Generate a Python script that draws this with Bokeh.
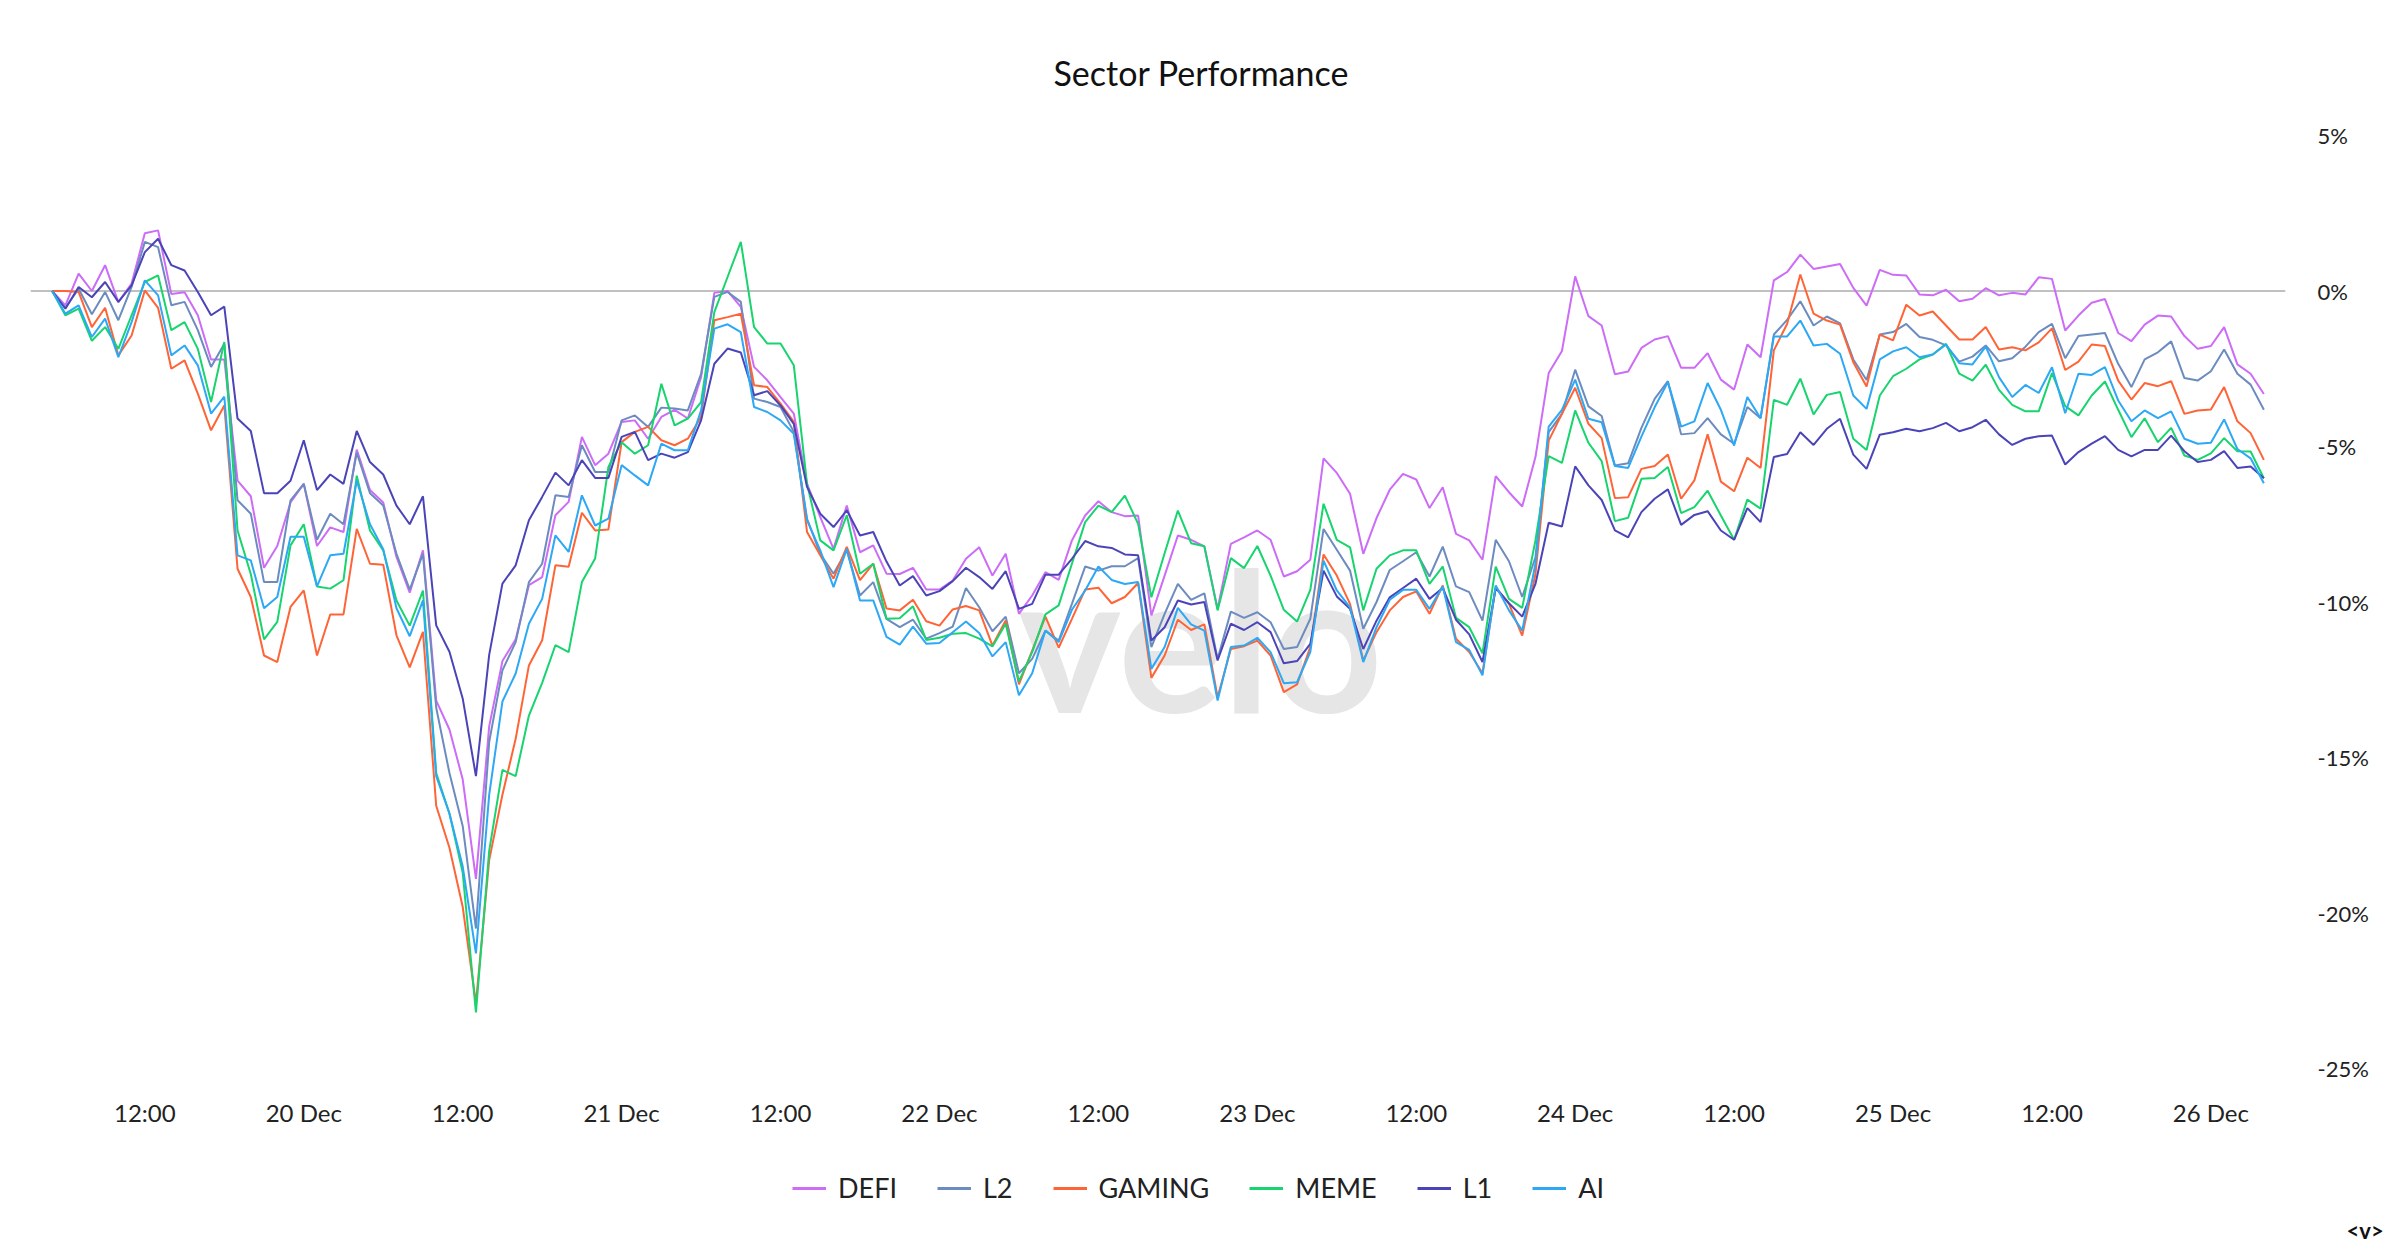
import pandas as pd
from bokeh.plotting import figure
from bokeh.layouts import column
from bokeh.models import (Range1d, FixedTicker, PrintfTickFormatter, Span, Label, Title,
                          Legend, LegendItem, ColumnDataSource)
from bokeh.embed import file_html
from bokeh.resources import INLINE

# ---------------- data (hourly % performance) ----------------
start = pd.Timestamp("2024-12-19 05:00")
times = pd.date_range(start, periods=168, freq="h")

defi = [0, -0.46, 0.56, 0.0, 0.83, -0.36, 0.24, 1.86, 1.95, -0.1, -0.04, -0.78,
        -2.2, -2.2, -6.1, -6.6, -8.9, -8.2, -6.8, -6.2, -8.2, -7.6, -7.75, -5.1,
        -6.4, -6.8, -8.55, -9.7, -8.34, -13.17, -14.1, -15.7, -18.9, -14.0, -11.9, -11.2,
        -9.46, -9.2, -7.21, -6.78, -4.69, -5.6, -5.23, -4.21, -4.16, -4.75, -4.05, -3.82,
        -4.1, -2.77, -0.06, 0.0, -0.51, -2.44, -2.87, -3.41, -3.94, -6.2, -7.27, -8.29,
        -6.9, -8.4, -8.18, -9.09, -9.1, -8.9, -9.6, -9.6, -9.31, -8.61, -8.24, -9.15,
        -8.45, -10.38, -9.79, -9.04, -9.29, -8.02, -7.22, -6.76, -7.11, -7.24, -7.22, -10.43,
        -9.15, -7.86, -8.0, -8.21, -10.22, -8.13, -7.92, -7.7, -8.0, -9.18, -9.01, -8.64,
        -5.38, -5.85, -6.52, -8.45, -7.3, -6.39, -5.88, -6.06, -6.98, -6.31, -7.81, -8.02,
        -8.64, -5.95, -6.47, -6.93, -5.34, -2.64, -1.93, 0.47, -0.81, -1.11, -2.68, -2.59,
        -1.83, -1.56, -1.45, -2.47, -2.47, -2.0, -2.85, -3.17, -1.72, -2.13, 0.34, 0.61,
        1.17, 0.71, 0.79, 0.87, 0.1, -0.47, 0.68, 0.52, 0.5, -0.11, -0.14, 0.04,
        -0.33, -0.25, 0.09, -0.14, -0.06, -0.11, 0.44, 0.39, -1.27, -0.79, -0.38, -0.26,
        -1.35, -1.61, -1.08, -0.79, -0.82, -1.45, -1.86, -1.77, -1.16, -2.36, -2.66, -3.31]

l2 = [0, -0.54, 0.07, -0.75, -0.03, -0.94, 0.13, 1.58, 1.41, -0.46, -0.35, -1.26,
      -2.44, -1.7, -6.73, -7.16, -9.36, -9.36, -6.73, -6.2, -8.0, -7.16, -7.5, -5.2,
      -6.5, -6.9, -8.45, -9.6, -8.45, -13.4, -15.5, -17.2, -20.5, -14.5, -12.2, -11.29,
      -9.36, -8.77, -6.57, -6.62, -4.96, -5.82, -5.82, -4.16, -4.0, -4.37, -3.75, -3.78,
      -3.84, -2.66, -0.19, -0.03, -0.35, -3.46, -3.57, -3.73, -4.53, -7.33, -8.45, -9.09,
      -8.34, -9.79, -9.36, -10.54, -10.81, -10.57, -11.18, -11.0, -10.79, -9.55, -10.17, -10.94,
      -10.47, -12.29, -11.83, -10.92, -11.24, -10.06, -8.86, -8.99, -8.85, -8.85, -8.59, -11.45,
      -10.38, -9.42, -9.93, -9.72, -11.83, -10.31, -10.51, -10.33, -10.65, -11.51, -11.45, -10.54,
      -7.65, -8.32, -8.99, -10.86, -10.0, -8.97, -8.69, -8.4, -9.18, -8.22, -9.5, -9.68,
      -10.6, -8.0, -8.69, -9.84, -8.56, -4.54, -3.95, -2.53, -3.71, -4.02, -5.61, -5.54,
      -4.4, -3.47, -2.9, -4.61, -4.57, -4.09, -4.61, -4.91, -3.73, -4.09, -1.4, -0.93,
      -0.33, -1.11, -0.82, -1.04, -2.2, -2.86, -1.4, -1.32, -1.06, -1.48, -1.57, -1.75,
      -2.27, -2.11, -1.75, -2.26, -2.16, -1.79, -1.32, -1.06, -2.16, -1.45, -1.4, -1.35,
      -2.34, -3.09, -2.2, -1.97, -1.62, -2.8, -2.88, -2.58, -1.88, -2.66, -3.01, -3.82]

gaming = [0, 0.0, -0.03, -1.16, -0.54, -2.07, -1.43, 0.02, -0.54, -2.5, -2.23, -3.3,
          -4.48, -3.68, -8.93, -9.84, -11.72, -11.93, -10.16, -9.63, -11.72, -10.4, -10.4, -7.65,
          -8.77, -8.8, -11.07, -12.1, -10.96, -16.55, -17.9, -19.8, -22.9, -18.3, -16.2, -14.4,
          -12.04, -11.23, -8.82, -8.87, -7.13, -7.7, -7.67, -4.86, -4.53, -4.37, -4.8, -4.96,
          -4.75, -4.05, -0.94, -0.84, -0.73, -3.03, -3.09, -3.62, -4.21, -7.75, -8.5, -9.25,
          -8.23, -9.3, -8.77, -10.21, -10.27, -9.93, -10.62, -10.76, -10.24, -10.13, -10.27, -11.4,
          -10.59, -12.65, -11.56, -10.47, -11.47, -10.54, -9.6, -9.54, -10.04, -9.84, -9.39, -12.44,
          -11.72, -10.57, -10.9, -10.72, -13.06, -11.51, -11.42, -11.24, -11.72, -12.9, -12.65, -11.45,
          -8.47, -9.15, -10.06, -11.88, -10.97, -10.27, -9.84, -9.66, -10.38, -9.47, -11.18, -11.61,
          -12.29, -9.52, -10.06, -11.08, -9.1, -4.81, -3.95, -3.11, -4.27, -4.73, -6.66, -6.63,
          -5.72, -5.63, -5.26, -6.68, -6.09, -4.61, -6.13, -6.44, -5.36, -5.69, -1.91, -1.06,
          0.53, -0.73, -0.95, -1.08, -2.29, -3.07, -1.4, -1.59, -0.44, -0.79, -0.66, -1.11,
          -1.56, -1.56, -1.16, -1.88, -1.81, -1.91, -1.65, -1.2, -2.54, -2.27, -1.72, -1.77,
          -2.88, -3.49, -2.96, -3.06, -2.9, -3.95, -3.84, -3.81, -3.09, -4.19, -4.57, -5.43]

meme = [0, -0.78, -0.57, -1.6, -1.16, -1.86, -0.78, 0.29, 0.5, -1.26, -1.0, -1.86,
        -3.57, -1.64, -7.7, -9.1, -11.2, -10.64, -8.18, -7.5, -9.5, -9.57, -9.3, -5.94,
        -7.7, -8.34, -9.95, -10.76, -9.63, -15.5, -16.8, -18.7, -23.2, -18.0, -15.4, -15.6,
        -13.65, -12.6, -11.39, -11.61, -9.36, -8.6, -5.66, -4.86, -5.23, -4.96, -2.98, -4.32,
        -4.1, -3.57, -0.68, 0.45, 1.58, -1.16, -1.69, -1.69, -2.39, -6.2, -8.02, -8.34,
        -7.21, -9.09, -8.77, -10.54, -10.52, -10.14, -11.22, -11.15, -11.02, -11.0, -11.18, -11.43,
        -10.7, -12.55, -11.61, -10.4, -10.11, -8.77, -7.43, -6.9, -7.11, -6.58, -7.49, -9.85,
        -8.43, -7.06, -8.11, -8.21, -10.27, -8.59, -8.91, -8.2, -9.15, -10.25, -10.63, -9.61,
        -6.84, -8.0, -8.24, -10.27, -8.93, -8.5, -8.34, -8.34, -9.42, -8.86, -10.51, -10.81,
        -11.65, -8.86, -9.9, -10.19, -8.02, -5.31, -5.53, -3.84, -4.88, -5.47, -7.4, -7.29,
        -6.04, -6.01, -5.66, -7.14, -6.95, -6.42, -7.22, -8.0, -6.71, -7.0, -3.5, -3.66,
        -2.82, -3.97, -3.34, -3.25, -4.75, -5.11, -3.36, -2.74, -2.5, -2.2, -2.04, -1.7,
        -2.66, -2.88, -2.37, -3.18, -3.66, -3.87, -3.87, -2.64, -3.7, -4.0, -3.36, -2.91,
        -3.82, -4.7, -4.09, -4.86, -4.4, -5.29, -5.43, -5.22, -4.73, -5.15, -5.16, -6.02]

l1 = [0, -0.57, 0.13, -0.2, 0.29, -0.35, 0.18, 1.25, 1.68, 0.83, 0.66, -0.03,
      -0.78, -0.5, -4.1, -4.5, -6.5, -6.5, -6.1, -4.8, -6.4, -5.9, -6.2, -4.5,
      -5.5, -5.9, -6.9, -7.5, -6.6, -10.75, -11.6, -13.1, -15.6, -11.7, -9.41, -8.82,
      -7.37, -6.62, -5.84, -6.25, -5.44, -6.01, -6.01, -4.69, -4.53, -5.44, -5.23, -5.36,
      -5.18, -4.16, -2.34, -1.85, -1.98, -3.35, -3.22, -3.68, -4.27, -6.3, -7.16, -7.59,
      -7.05, -7.86, -7.75, -8.7, -9.47, -9.17, -9.79, -9.65, -9.33, -8.9, -9.2, -9.58,
      -9.01, -10.22, -10.06, -9.12, -9.12, -8.61, -8.04, -8.21, -8.26, -8.47, -8.5, -11.24,
      -10.81, -9.95, -10.08, -10.0, -11.88, -10.7, -10.9, -10.65, -10.97, -11.97, -11.9, -11.35,
      -8.99, -9.82, -10.22, -11.51, -10.6, -9.85, -9.55, -9.25, -9.9, -9.55, -10.57, -11.04,
      -11.93, -9.55, -10.04, -10.47, -9.42, -7.45, -7.57, -5.64, -6.25, -6.72, -7.7, -7.92,
      -7.11, -6.68, -6.38, -7.52, -7.2, -7.08, -7.7, -8.0, -6.98, -7.43, -5.34, -5.24,
      -4.54, -4.95, -4.43, -4.11, -5.26, -5.72, -4.62, -4.54, -4.43, -4.51, -4.41, -4.24,
      -4.51, -4.38, -4.14, -4.61, -4.95, -4.75, -4.67, -4.65, -5.58, -5.18, -4.91, -4.67,
      -5.11, -5.32, -5.11, -5.11, -4.65, -5.15, -5.5, -5.43, -5.15, -5.69, -5.64, -6.02]

ai = [0, -0.73, -0.46, -1.48, -0.89, -2.13, -1.0, 0.34, -0.14, -2.07, -1.75, -2.39,
      -3.94, -3.4, -8.5, -8.66, -10.2, -9.84, -7.9, -7.9, -9.5, -8.5, -8.45, -6.1,
      -7.5, -8.3, -10.2, -11.1, -9.95, -15.6, -16.8, -18.5, -21.3, -16.2, -13.2, -12.3,
      -10.7, -9.9, -7.86, -8.39, -6.57, -7.54, -7.32, -5.6, -5.93, -6.25, -4.91, -5.12,
      -5.12, -3.84, -1.21, -1.07, -1.32, -3.73, -3.89, -4.16, -4.59, -7.37, -8.34, -9.52,
      -8.29, -9.95, -9.95, -11.12, -11.37, -10.79, -11.34, -11.32, -10.97, -10.63, -11.0, -11.75,
      -11.29, -13.0, -12.29, -10.92, -11.29, -10.25, -9.63, -8.86, -9.29, -9.42, -9.36, -12.15,
      -11.45, -10.19, -10.72, -10.92, -13.17, -11.45, -11.4, -11.15, -11.61, -12.61, -12.58, -11.61,
      -8.67, -9.63, -10.17, -11.93, -10.81, -9.93, -9.61, -9.61, -10.22, -9.5, -11.29, -11.54,
      -12.36, -9.47, -10.27, -10.92, -8.77, -4.36, -3.82, -2.85, -4.11, -4.22, -5.63, -5.69,
      -4.68, -3.74, -2.93, -4.36, -4.19, -2.96, -3.82, -4.97, -3.41, -4.09, -1.46, -1.46,
      -0.95, -1.75, -1.7, -2.02, -3.36, -3.79, -2.2, -1.94, -1.81, -2.13, -2.04, -1.72,
      -2.32, -2.36, -1.79, -2.77, -3.41, -3.02, -3.28, -2.45, -3.93, -2.66, -2.7, -2.45,
      -3.52, -4.19, -3.84, -4.09, -3.87, -4.75, -4.91, -4.88, -4.13, -5.08, -5.38, -6.18]

series_names = ["DEFI", "L2", "GAMING", "MEME", "L1", "AI"]
series_values = [defi, l2, gaming, meme, l1, ai]
series_colors = ["#CC6CF7", "#6C8BBF", "#FF6436", "#18D46E", "#4B44B8", "#2CA8F5"]

y_ticks = [5, 0, -5, -10, -15, -20, -25]
x_tick_times = pd.date_range("2024-12-19 12:00", "2024-12-26 00:00", freq="12h")
x_tick_labels = ["12:00", "20 Dec", "12:00", "21 Dec", "12:00", "22 Dec", "12:00",
                 "23 Dec", "12:00", "24 Dec", "12:00", "25 Dec", "12:00", "26 Dec"]

FONT = "Lato"

# ---------------- main chart ----------------
pad = pd.Timedelta(minutes=98)
p = figure(frame_width=2255, frame_height=933, x_axis_type="datetime", y_axis_location="right",
           x_range=Range1d(times[0] - pad, times[-1] + pad), y_range=Range1d(-25, 5),
           output_backend="svg", toolbar_location=None,
           min_border_left=30, min_border_right=107, min_border_top=135, min_border_bottom=70)
p.background_fill_color = "white"
p.border_fill_color = "white"
p.outline_line_color = None
p.xgrid.visible = False
p.ygrid.visible = False

p.title.text = "Sector Performance"
p.title.align = "left"
p.title.offset = 1023
p.title.text_font = FONT
p.title.text_font_size = "34px"
p.title.text_font_style = "normal"
p.title.text_color = "#111111"
p.title.standoff = 85

# watermark
p.add_layout(Label(x=1170, y=431, x_units="screen", y_units="screen", text="velo",
                   text_font=FONT, text_font_size="195px", text_font_style="bold",
                   text_color="#e6e6e6", text_align="center", text_baseline="middle",
                   level="underlay"))

p.add_layout(Span(location=0, dimension="width", line_color="#c0c0c0", line_width=2,
                  level="underlay"))

for name, vals, col in zip(series_names, series_values, series_colors):
    src = ColumnDataSource(dict(t=times, v=vals))
    p.line("t", "v", source=src, line_color=col, line_width=2)

yax = p.yaxis[0]
yax.ticker = FixedTicker(ticks=y_ticks)
yax.formatter = PrintfTickFormatter(format="%d%%")
yax.axis_line_color = None
yax.major_tick_line_color = None
yax.minor_tick_line_color = None
yax.major_label_standoff = 26
yax.major_label_text_font = FONT
yax.major_label_text_font_size = "22px"
yax.major_label_text_color = "#222222"

xax = p.xaxis[0]
tick_ms = [int(t.value // 10**6) for t in x_tick_times]
xax.ticker = FixedTicker(ticks=tick_ms)
xax.major_label_overrides = {ms: lab for ms, lab in zip(tick_ms, x_tick_labels)}
xax.axis_line_color = None
xax.major_tick_line_color = None
xax.minor_tick_line_color = None
xax.major_label_standoff = 23
xax.major_label_text_font = FONT
xax.major_label_text_font_size = "24px"
xax.major_label_text_color = "#222222"

# ---------------- legend strip ----------------
leg = figure(width=2400, height=112, x_range=Range1d(0, 1), y_range=Range1d(0, 1),
             x_axis_location=None, y_axis_location=None, output_backend="svg",
             toolbar_location=None, min_border=0, min_border_bottom=41)
leg.outline_line_color = None
leg.xgrid.visible = False
leg.ygrid.visible = False
items = []
for name, col in zip(series_names, series_colors):
    # off-screen stub so the legend can draw each series' line swatch
    r = leg.line(x=[-2, -1], y=[-2, -2], line_color=col, line_width=3)
    items.append(LegendItem(label=name, renderers=[r]))
legend = Legend(items=items, orientation="horizontal", location=(762, 3),
                glyph_width=34, glyph_height=20, label_standoff=12, spacing=40,
                label_text_font=FONT, label_text_font_size="27px", label_text_color="#222222",
                border_line_color=None, background_fill_alpha=0, margin=0, padding=4)
leg.add_layout(legend, "center")

logo = Title(text="<v>", align="left", offset=2316, standoff=14,
             text_font=FONT, text_font_size="22px", text_font_style="bold",
             text_color="#111111")
leg.add_layout(logo, "below")

open("out.html", "w").write(file_html(column(p, leg, spacing=0), INLINE))
